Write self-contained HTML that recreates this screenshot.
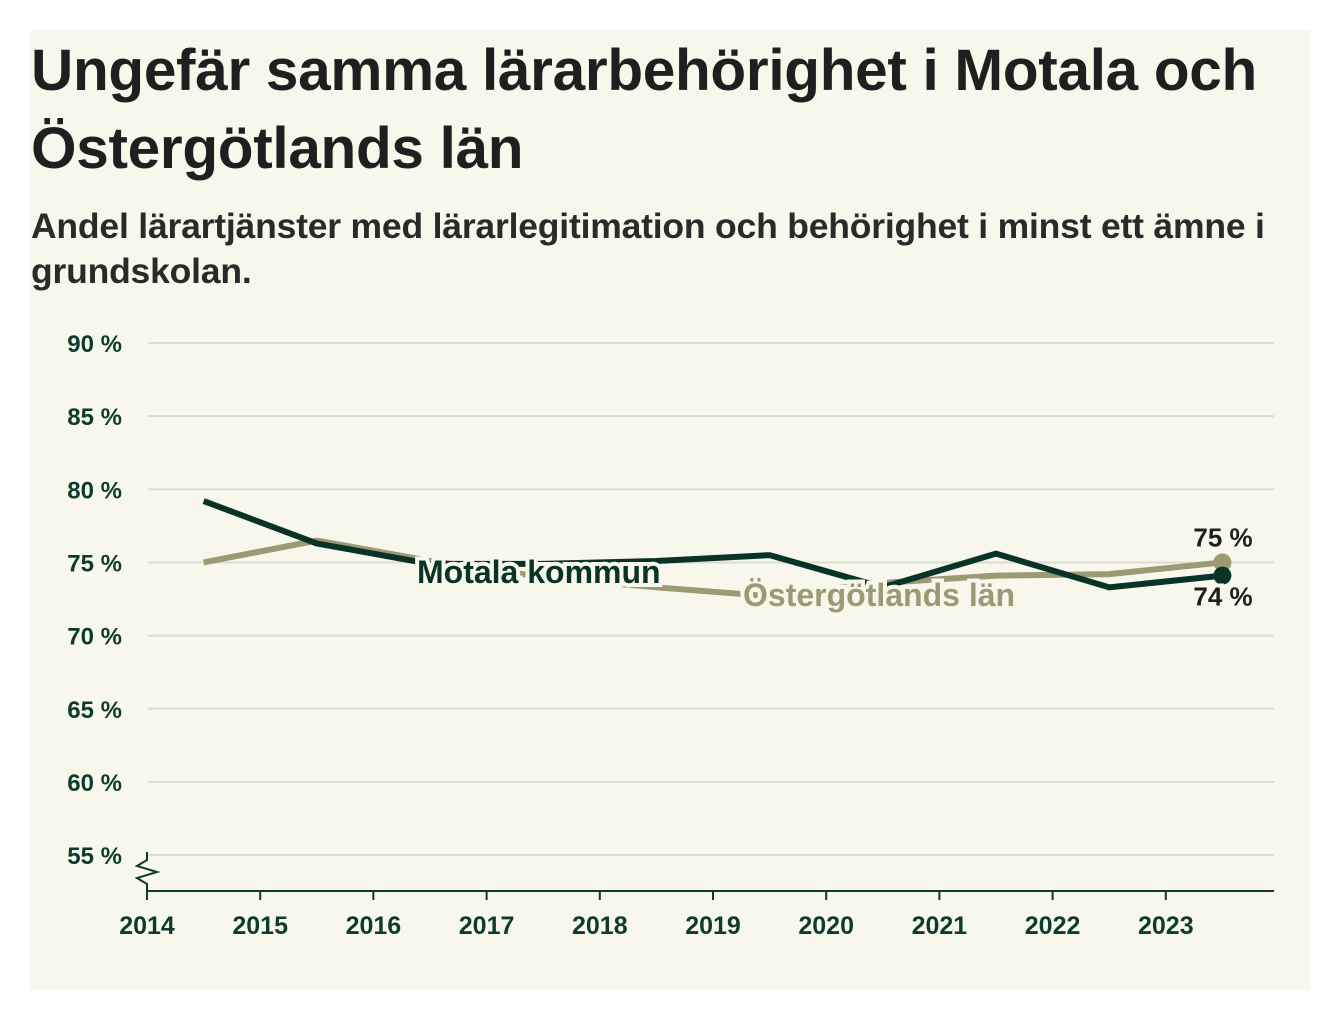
<!DOCTYPE html>
<html><head><meta charset="utf-8"><style>
body{margin:0;background:#fff;width:1340px;height:1020px;overflow:hidden;font-family:"Liberation Sans",sans-serif}
#card{position:absolute;left:30px;top:30px;width:1280px;height:960px;background:#f8f7eb}
h1{position:absolute;left:1px;top:2px;margin:0;font-size:58.5px;line-height:78px;font-weight:bold;color:#1f1f1f;letter-spacing:-0.3px;white-space:nowrap}
h2{position:absolute;left:1px;top:174px;margin:0;font-size:35.5px;line-height:45px;font-weight:bold;color:#2a2a2a;white-space:nowrap;letter-spacing:-0.2px}
svg{position:absolute;left:0;top:0}
</style></head><body>
<div id="card">
<h1>Ungefär samma lärarbehörighet i Motala och<br>Östergötlands län</h1>
<h2>Andel lärartjänster med lärarlegitimation och behörighet i minst ett ämne i<br>grundskolan.</h2>
</div>
<svg id="chart" width="1340" height="1020"></svg>
<script>
const years=[2014,2015,2016,2017,2018,2019,2020,2021,2022,2023];
const yTicks=[55,60,65,70,75,80,85,90];
const yTickLabels=["55 %","60 %","65 %","70 %","75 %","80 %","85 %","90 %"];
const motala=[79.2,76.3,74.9,74.9,75.1,75.5,73.3,75.6,73.3,74.1];
const ostergotland=[75.0,76.5,75.1,74.0,73.3,72.7,73.6,74.1,74.2,75.0];
const NS="http://www.w3.org/2000/svg";
const svg=document.getElementById('chart');
const x=v=>147+(v-2014)*113.2;
const y=v=>343+(90-v)*14.63;
function mk(t,a){const e=document.createElementNS(NS,t);for(const k in a)e.setAttribute(k,a[k]);svg.appendChild(e);return e;}
yTicks.forEach((t,i)=>{
 const g=mk('line',{x1:148,x2:1274,y1:y(t),y2:y(t),stroke:'#dcdcd6','stroke-width':2});
 
 
 const l=mk('text',{x:122,y:y(t)+9,'text-anchor':'end','font-size':24,'font-weight':'bold',fill:'#0d3b2e','font-family':'Liberation Sans'});
 l.textContent=yTickLabels[i];
 
 
});
const ax=mk('line',{x1:147,x2:1274,y1:891,y2:891,stroke:'#0d3b2e','stroke-width':2});


const br=mk('polyline',{points:'147,852 147,860 137,866 157,872 137,878 147,884 147,891',fill:'none',stroke:'#0d3b2e','stroke-width':2});


years.forEach(yr=>{
 const tk=mk('line',{x1:x(yr),x2:x(yr),y1:891,y2:900,stroke:'#0d3b2e','stroke-width':2});
 
 
 const l=mk('text',{x:x(yr),y:934,'text-anchor':'middle','font-size':25,'font-weight':'bold',fill:'#0d3b2e','font-family':'Liberation Sans'});
 l.textContent=yr;
 
 
});
function series(vals,col,name){
 const p=mk('polyline',{points:vals.map((v,i)=>x(years[i]+0.5)+','+y(v)).join(' '),fill:'none',stroke:col,'stroke-width':6,'stroke-linejoin':'miter'});
 
 
 const n=vals.length-1;
 const c=mk('circle',{cx:x(years[n]+0.5),cy:y(vals[n]),r:9,fill:col});
 
 
}
series(ostergotland,'#9b9a74','ostergotland');
series(motala,'#0a3327','motala');
function label(txt,xx,yy,col,name,anchor,fs){
 const t=mk('text',{x:xx,y:yy,'font-size':fs||32,'font-weight':'bold',fill:col,stroke:'#f8f7eb','stroke-width':8,'paint-order':'stroke','text-anchor':anchor||'start','font-family':'Liberation Sans'});
 t.textContent=txt;
 
 
}
label('Motala kommun',417,583,'#0a3327','motala-label');
label('Östergötlands län',743,606,'#9b9a74','ostergotland-label');
const n=years.length-1;
label(Math.round(ostergotland[n])+' %',1223,y(ostergotland[n])-16,'#1f1f1f','ostergotland-value','middle',26);
label(Math.round(motala[n])+' %',1223,y(motala[n])+30,'#1f1f1f','motala-value','middle',26);
</script>
</body></html>
